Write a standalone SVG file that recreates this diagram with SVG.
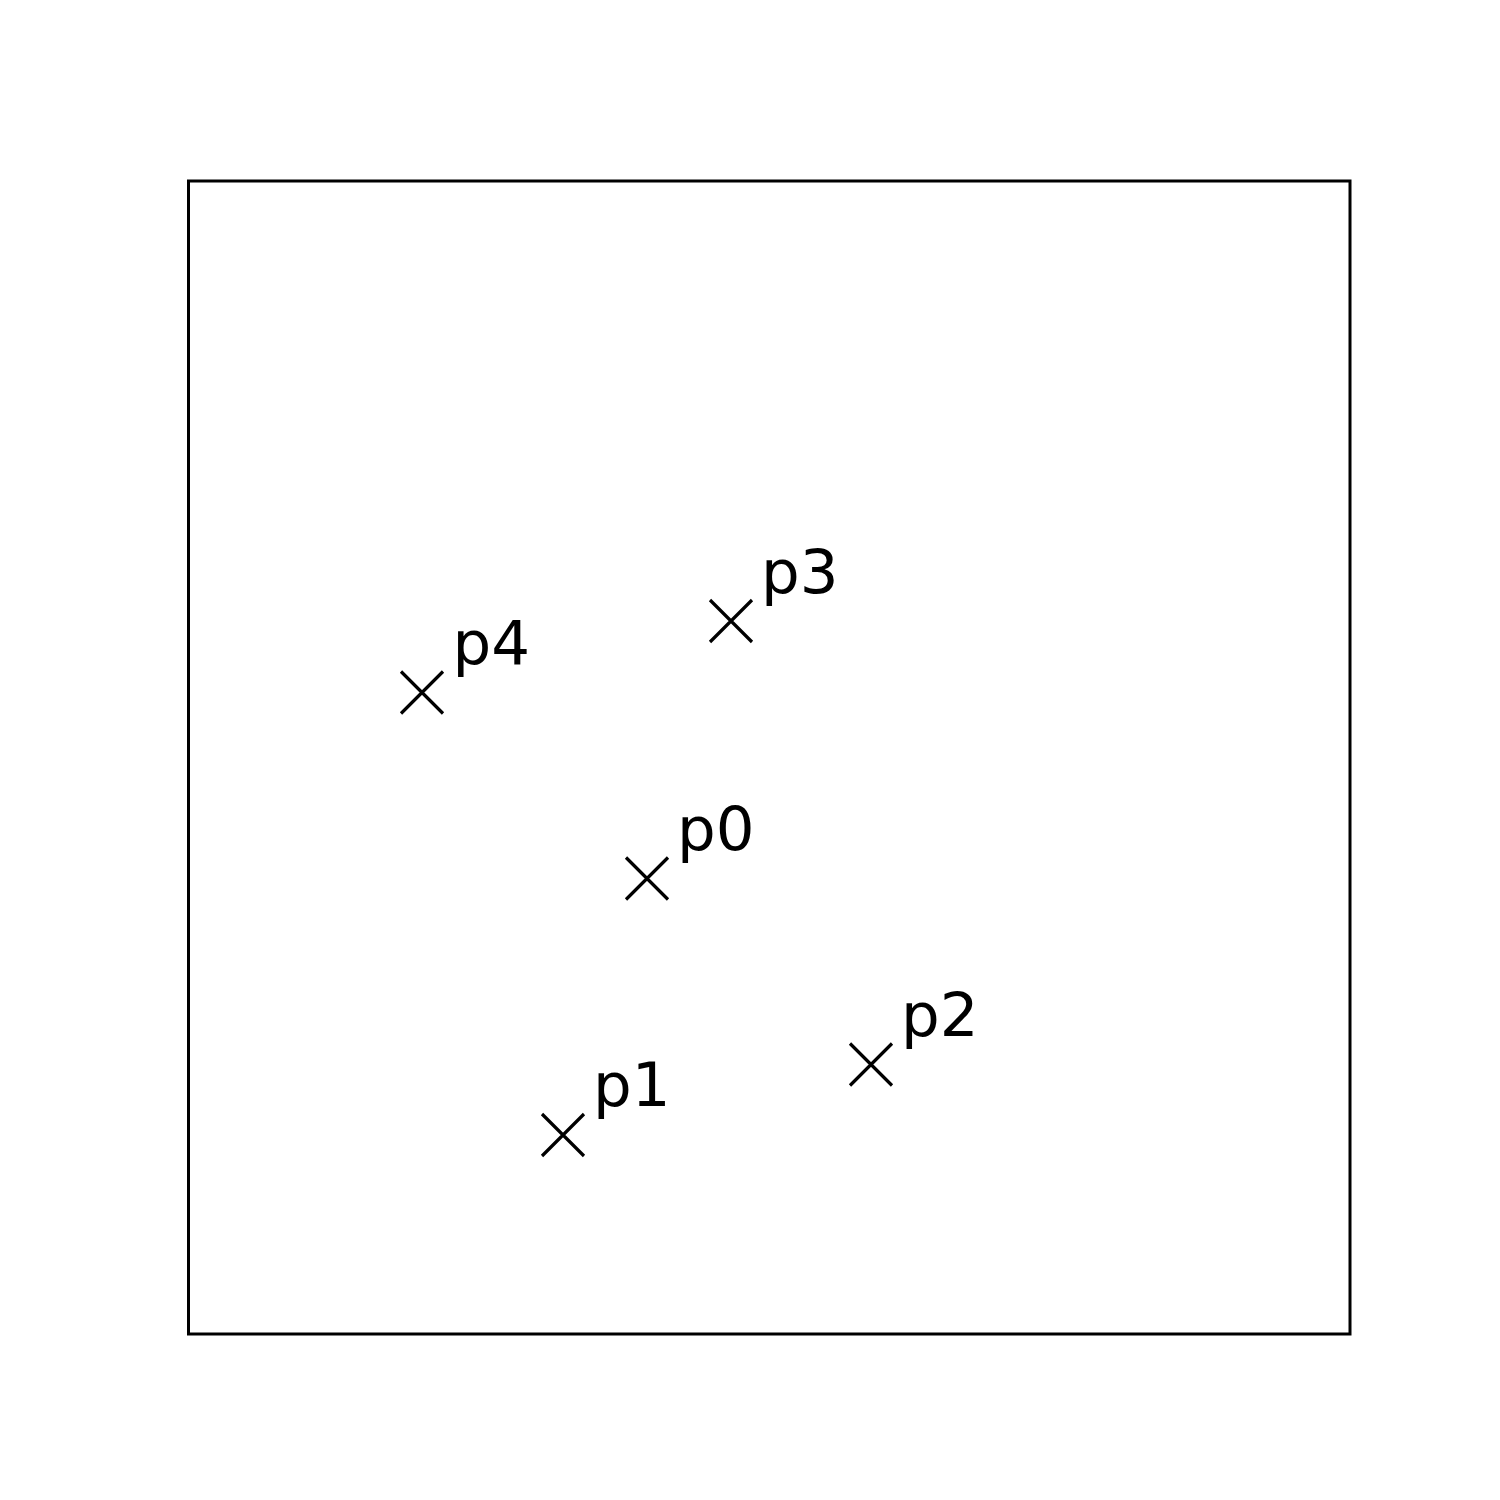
<svg xmlns="http://www.w3.org/2000/svg" width="1500" height="1500" viewBox="0 0 1500 1500">
<style>
.frame{fill:none;stroke:#000;stroke-width:3;stroke-linejoin:miter}
.mk{stroke:#000;stroke-width:3.2;fill:none}
.lbl{font-family:"DejaVu Sans",sans-serif;font-size:61px;fill:#000}
</style>
<defs>
<path id="x" class="mk" d="M-21,-21L21,21M-21,21L21,-21"/>
</defs>
<rect width="1500" height="1500" fill="#fff"/>
<rect class="frame" x="188.5" y="181" width="1161.5" height="1153"/>
<g id="connectors"></g>
<g id="p0"><use href="#x" x="647" y="878.5"/><text class="lbl" x="677" y="849.5">p0</text></g>
<g id="p1"><use href="#x" x="563" y="1135"/><text class="lbl" x="593" y="1106">p1</text></g>
<g id="p2"><use href="#x" x="871" y="1064.5"/><text class="lbl" x="901" y="1035.5">p2</text></g>
<g id="p3"><use href="#x" x="731" y="621"/><text class="lbl" x="761" y="592.5">p3</text></g>
<g id="p4"><use href="#x" x="422" y="692.5"/><text class="lbl" x="452.5" y="663.5">p4</text></g>
</svg>
